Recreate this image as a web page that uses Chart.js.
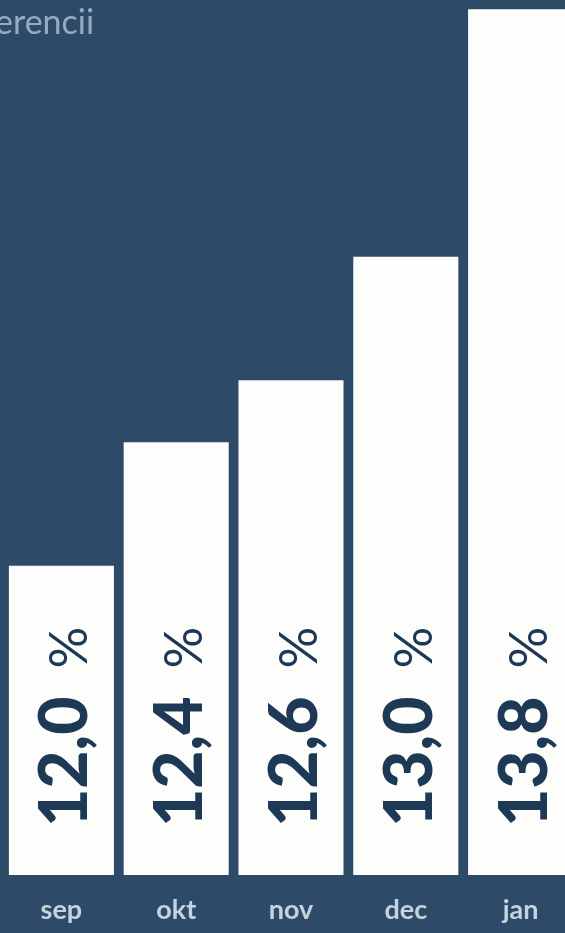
<!DOCTYPE html>
<html>
<head>
<meta charset="utf-8">
<script src="https://cdn.jsdelivr.net/npm/chart.js@4/dist/chart.umd.min.js"></script>
<style>
  html, body { margin: 0; padding: 0; background: #2d4b68; overflow: hidden; }
  #wrap { position: relative; width: 565px; height: 933px; overflow: hidden; }
  #title { position: absolute; left: -5px; top: 0px; font-family: Lato, sans-serif; font-weight: 400; font-size: 34px; color: #97abc0; }
  #holder { position: absolute; left: 0; top: 0; width: 580px; height: 933px; }
</style>
</head>
<body>
<div id="wrap">
  <div id="holder"><canvas id="bars"></canvas></div>
  <div id="title">erencii</div>
</div>
<script>
var months = ['sep', 'okt', 'nov', 'dec', 'jan'];
var values = [12.0, 12.4, 12.6, 13.0, 13.8];
var valueLabels = ['12,0', '12,4', '12,6', '13,0', '13,8'];

// rotated value labels sitting at the foot of each bar
var insideLabels = {
	id: 'insideLabels',
	afterDraw: function(chart) {
		var c = chart.ctx;
		var xs = chart.scales.x;
		var bottom = chart.chartArea.bottom;
		for (var i = 0; i < valueLabels.length; i++) {
			c.save();
			c.translate(xs.getPixelForValue(i) + 26, bottom - 48);
			c.rotate(-Math.PI / 2);
			c.fillStyle = '#1e3955';
			c.textBaseline = 'alphabetic';
			c.textAlign = 'left';
			c.font = '900 66px Lato';
			c.fillText(valueLabels[i], 0, 0);
			var w = c.measureText(valueLabels[i]).width;
			c.font = '400 52px Lato';
			c.fillText('%', w + 28, 0);
			c.restore();
		}
	}
};

var chart = new Chart(document.getElementById('bars'), {
	type: 'bar',
	data: {
		labels: months,
		datasets: [{
			data: values,
			backgroundColor: '#fdfdfc',
			borderWidth: 0,
			barPercentage: 0.915,
			categoryPercentage: 1
		}]
	},
	options: {
		responsive: true,
		maintainAspectRatio: false,
		animation: false,
		layout: { padding: { left: 4, right: 2, top: 0, bottom: 0 } },
		plugins: { legend: { display: false }, tooltip: { enabled: false } },
		scales: {
			x: {
				grid: { display: false, drawTicks: false },
				border: { display: false },
				ticks: {
					color: '#c6d2de',
					padding: 19,
					font: { family: 'Lato', size: 27, weight: 'bold' }
				},
				afterFit: function(scale) { scale.height = 58; }
			},
			y: {
				display: false,
				min: 11,
				max: 13.83
			}
		}
	},
	plugins: [insideLabels]
});
</script>
</body>
</html>
